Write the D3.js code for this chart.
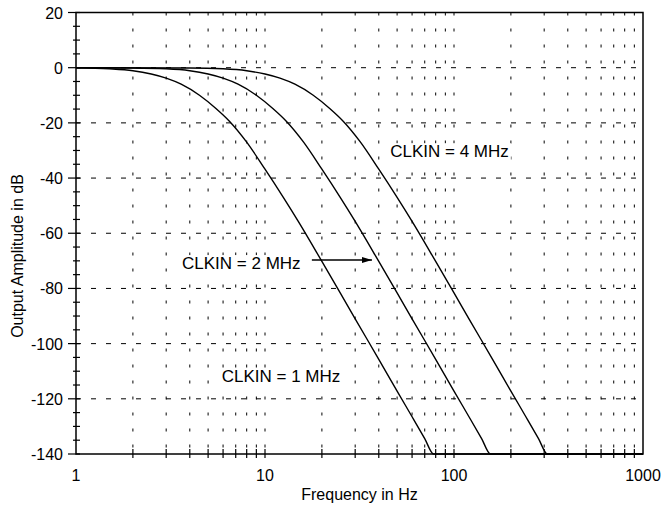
<!DOCTYPE html>
<html>
<head>
<meta charset="utf-8">
<script src="https://cdn.jsdelivr.net/npm/d3@7"></script>
<style>
  body { margin: 0; background: #fff; }
  svg text { font-family: "Liberation Sans", Arial, sans-serif; fill: #000; }
</style>
</head>
<body>
<svg id="chartSvg" width="661" height="508"></svg>
<script>
// Values
const freqLabels = [1, 10, 100, 1000];
const dbLabels = [-140, -120, -100, -80, -60, -40, -20, 0, 20];
const gridDb = [-120, -100, -80, -60, -40, -20, 0];

// response curves, [frequency Hz, amplitude dB]
const clk1MHz = [[1, 0], [1.5, -0.4], [2, -1.1], [2.5, -2.3], [3, -3.8], [3.6, -6], [4.5, -10],
  [5.5, -14.8], [6.5, -19.5], [8, -27], [10, -36.8], [12.5, -47], [15, -55.7], [20, -70.2],
  [25, -81.6], [30, -91], [40, -105.7], [50, -117.2], [60, -126.5], [70, -134.4], [78, -140], [1000, -140]];
const clk2MHz = [[1, 0], [2, -0.1], [3, -0.4], [4, -1.1], [5, -2.3], [6, -3.8], [7.2, -6], [9, -10],
  [11, -14.8], [13, -19.5], [16, -27], [20, -36.8], [25, -47], [30, -55.7], [40, -70.2],
  [50, -81.6], [60, -91], [80, -105.7], [100, -117.2], [120, -126.5], [140, -134.4], [156, -140], [1000, -140]];
const clk4MHz = [[1, 0], [4, -0.1], [6, -0.4], [8, -1.1], [10, -2.3], [12, -3.8], [14.4, -6], [18, -10],
  [22, -14.8], [26, -19.5], [32, -27], [40, -36.8], [50, -47], [60, -55.7], [80, -70.2],
  [100, -81.6], [120, -91], [160, -105.7], [200, -117.2], [240, -126.5], [280, -134.4], [312, -140], [1000, -140]];

const curveLabels = ["CLKIN = 1 MHz", "CLKIN = 2 MHz", "CLKIN = 4 MHz"];
const labelFreq = [5.9, 3.64, 46];
const labelDb = [-114, -73, -32.5];
const arrowFreq = [17.7, 36.8];
const arrowDb = -69.7;

const svg = d3.select("#chartSvg");
const plotLeft = 76, plotRight = 643, plotTop = 12.5, plotBottom = 454;

const x = d3.scaleLog().domain([1, 1000]).range([plotLeft, plotRight]);
const y = d3.scaleLinear().domain([-140, 20]).range([plotBottom, plotTop]);

// minor decade positions 2..9, 10, 20..90, 100, 200..900
const minorFreqs = [];
[1, 10, 100].forEach(dec => {
    for (let k = 2; k <= 10; k++) {
        if (dec * k < 1000) minorFreqs.push(dec * k);
    }
});

// vertical dotted grid
svg.append("g").selectAll("line")
    .data(minorFreqs)
    .enter()
    .append("line")
    .attr("x1", d => x(d)).attr("x2", d => x(d))
    .attr("y1", plotTop).attr("y2", plotBottom)
    .attr("stroke", "#000")
    .attr("stroke-width", 1)
    .attr("stroke-dasharray", "3,13");

// horizontal dashed grid
svg.append("g").selectAll("line")
    .data(gridDb)
    .enter()
    .append("line")
    .attr("x1", plotLeft).attr("x2", plotRight)
    .attr("y1", d => y(d)).attr("y2", d => y(d))
    .attr("stroke", "#000")
    .attr("stroke-width", 1)
    .attr("stroke-dasharray", "5,10");

// frame
svg.append("rect")
    .attr("x", plotLeft).attr("y", plotTop)
    .attr("width", plotRight - plotLeft).attr("height", plotBottom - plotTop)
    .attr("fill", "none")
    .attr("stroke", "#000")
    .attr("stroke-width", 1.5);

// bottom ticks crossing the axis
svg.append("g").selectAll("line")
    .data(minorFreqs)
    .enter()
    .append("line")
    .attr("x1", d => x(d)).attr("x2", d => x(d))
    .attr("y1", plotBottom - 5).attr("y2", plotBottom + 4)
    .attr("stroke", "#000")
    .attr("stroke-width", 1.2);

// left ticks: every 5 dB minor, every 20 dB major
const minorDb = d3.range(-140, 21, 5).filter(d => d % 20 !== 0);
svg.append("g").selectAll("line")
    .data(minorDb)
    .enter()
    .append("line")
    .attr("x1", plotLeft - 3).attr("x2", plotLeft + 4)
    .attr("y1", d => y(d)).attr("y2", d => y(d))
    .attr("stroke", "#000")
    .attr("stroke-width", 1.2);

svg.append("g").selectAll("line")
    .data(dbLabels)
    .enter()
    .append("line")
    .attr("x1", plotLeft - 8).attr("x2", plotLeft + 4)
    .attr("y1", d => y(d)).attr("y2", d => y(d))
    .attr("stroke", "#000")
    .attr("stroke-width", 1.2);

// tick labels
svg.append("g").selectAll("text")
    .data(dbLabels)
    .enter()
    .append("text")
    .attr("x", plotLeft - 13)
    .attr("y", d => y(d) + 6)
    .attr("text-anchor", "end")
    .attr("font-size", "16px")
    .text(d => String(d));

svg.append("g").selectAll("text")
    .data(freqLabels)
    .enter()
    .append("text")
    .attr("x", d => x(d))
    .attr("y", 481)
    .attr("text-anchor", "middle")
    .attr("font-size", "16px")
    .text(d => String(d));

// axis titles
svg.append("text")
    .attr("x", (plotLeft + plotRight) / 2)
    .attr("y", 500)
    .attr("text-anchor", "middle")
    .attr("font-size", "16px")
    .text("Frequency in Hz");

svg.append("text")
    .attr("transform", "translate(23, 256) rotate(-90)")
    .attr("text-anchor", "middle")
    .attr("font-size", "16px")
    .text("Output Amplitude in dB");

// curves
const line = d3.line()
    .x(d => x(d[0]))
    .y(d => y(d[1]))
    .curve(d3.curveMonotoneX);

[clk1MHz, clk2MHz, clk4MHz].forEach(series => {
    svg.append("path")
        .datum(series)
        .attr("d", line)
        .attr("fill", "none")
        .attr("stroke", "#000")
        .attr("stroke-width", 1.4);
});

// curve labels, on a white patch that hides the grid behind them
const labelGroups = svg.append("g").selectAll("g")
    .data(curveLabels)
    .enter()
    .append("g");

labelGroups.append("text")
    .attr("x", (d, i) => x(labelFreq[i]))
    .attr("y", (d, i) => y(labelDb[i]))
    .attr("font-size", "17px")
    .text(d => d);

labelGroups.each(function() {
    const g = d3.select(this);
    const box = g.select("text").node().getBBox();
    g.insert("rect", "text")
        .attr("x", box.x - 2).attr("y", box.y + 1)
        .attr("width", box.width + 4).attr("height", box.height - 2)
        .attr("fill", "#fff");
});

// arrow from the 2 MHz label to its curve
svg.append("defs").append("marker")
    .attr("id", "head")
    .attr("viewBox", "0 0 10 6")
    .attr("refX", 10).attr("refY", 3)
    .attr("markerWidth", 10).attr("markerHeight", 6)
    .attr("markerUnits", "userSpaceOnUse")
    .attr("orient", "auto")
    .append("path")
    .attr("d", "M0,0 L10,3 L0,6 Z")
    .attr("fill", "#000");

svg.append("line")
    .attr("x1", x(arrowFreq[0])).attr("x2", x(arrowFreq[1]))
    .attr("y1", y(arrowDb)).attr("y2", y(arrowDb))
    .attr("stroke", "#000")
    .attr("stroke-width", 1.4)
    .attr("marker-end", "url(#head)");
</script>
</body>
</html>
